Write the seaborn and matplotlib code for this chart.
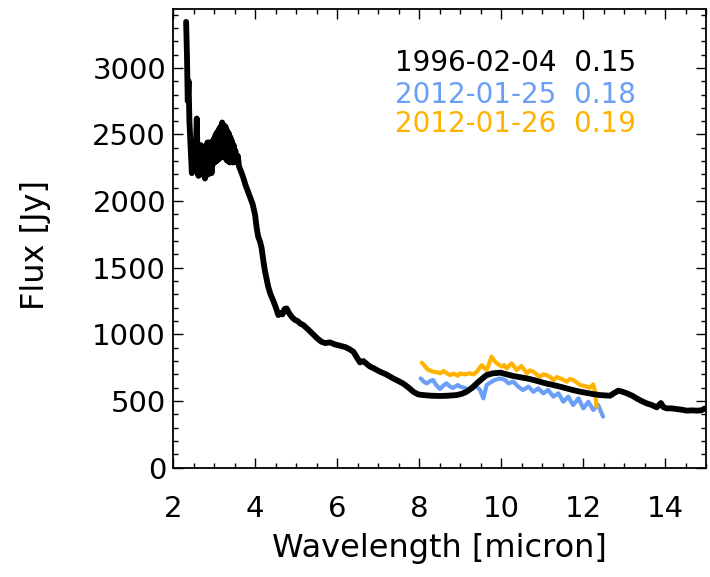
import numpy as np
import pandas as pd
import matplotlib
matplotlib.use("Agg")
import matplotlib.pyplot as plt
from matplotlib.ticker import MultipleLocator
import seaborn as sns

# ---------------- data ----------------
wl_1996 = [2.32, 2.34, 2.36, 2.38, 2.40, 2.43,
           2.46, 2.48, 2.50, 2.52, 2.54, 2.56, 2.58, 2.60, 2.62, 2.64, 2.66, 2.68,
           2.70, 2.72, 2.74, 2.76, 2.78, 2.80, 2.82, 2.84, 2.86, 2.88, 2.90, 2.92,
           2.94, 2.96, 2.98, 3.00, 3.02, 3.04, 3.06, 3.08, 3.10, 3.12, 3.14, 3.16,
           3.18, 3.20, 3.22, 3.24, 3.26, 3.28, 3.30, 3.32, 3.34, 3.36, 3.38, 3.40,
           3.42, 3.44, 3.46, 3.48, 3.50, 3.52, 3.55, 3.58, 3.61, 3.65,
           3.71, 3.77, 3.83, 3.88, 3.94, 4.00, 4.04, 4.08, 4.12, 4.16,
           4.20, 4.24, 4.28, 4.32, 4.38, 4.45, 4.51, 4.57, 4.62, 4.67, 4.72, 4.77,
           4.83, 4.90, 4.97, 5.04, 5.11, 5.18, 5.25, 5.32, 5.42, 5.52, 5.62, 5.71,
           5.83, 5.95, 6.07, 6.20, 6.30, 6.40, 6.48, 6.56, 6.64, 6.72, 6.80, 6.90,
           7.05, 7.20, 7.37, 7.50, 7.62, 7.75, 7.86, 7.98, 8.10, 8.30, 8.51, 8.70,
           8.92, 9.05, 9.16, 9.30, 9.41, 9.53, 9.65, 9.80, 9.98, 10.15, 10.30, 10.45,
           10.63, 10.80, 10.95, 11.10, 11.28, 11.44, 11.60, 11.76, 11.93, 12.10, 12.25, 12.41,
           12.55, 12.66, 12.76, 12.86, 12.96, 13.07, 13.20, 13.31, 13.43, 13.55, 13.68, 13.80,
           13.90, 13.96, 14.04, 14.16, 14.29, 14.41, 14.53, 14.65, 14.77, 14.88, 14.98]
flux_1996 = [3345, 3100, 2750, 2900, 2600, 2400,
             2210, 2380, 2250, 2350, 2230, 2420, 2620, 2300, 2190, 2400, 2240, 2420,
             2200, 2410, 2230, 2380, 2170, 2400, 2250, 2440, 2200, 2440, 2260, 2420,
             2210, 2450, 2280, 2470, 2290, 2500, 2300, 2520, 2310, 2540, 2320, 2560,
             2330, 2590, 2350, 2570, 2330, 2560, 2310, 2530, 2300, 2510, 2290, 2480,
             2300, 2450, 2290, 2420, 2300, 2380, 2290, 2340, 2260, 2230,
             2180, 2120, 2070, 2030, 1980, 1900, 1800, 1730, 1700, 1650,
             1560, 1480, 1420, 1360, 1300, 1250, 1200, 1145, 1160, 1150, 1190, 1195,
             1160, 1130, 1110, 1100, 1080, 1070, 1050, 1030, 1000, 970, 945, 935,
             940, 925, 915, 905, 890, 870, 830, 790, 800, 780, 760, 745,
             720, 700, 670, 650, 630, 600, 570, 550, 545, 540, 538, 540,
             545, 555, 570, 600, 633, 665, 695, 708, 713, 700, 688, 680,
             670, 658, 645, 632, 620, 608, 595, 582, 570, 560, 552, 545,
             542, 540, 560, 578, 570, 558, 540, 520, 500, 483, 470, 453,
             485, 455, 445, 445, 440, 435, 428, 430, 428, 430, 445]

wl_0125 = [8.04, 8.12, 8.19, 8.27, 8.34, 8.42, 8.51, 8.59, 8.67, 8.75, 8.83, 8.90,
           8.95, 9.00, 9.10, 9.20, 9.28, 9.37, 9.43, 9.49, 9.57, 9.65, 9.77, 9.85,
           9.98, 10.10, 10.18, 10.30, 10.42, 10.54, 10.67, 10.79, 10.91, 11.03, 11.15, 11.28,
           11.40, 11.52, 11.64, 11.76, 11.89, 12.01, 12.13, 12.25, 12.37, 12.49]
flux_0125 = [670, 645, 633, 650, 658, 620, 590, 615, 633, 610, 598, 612,
             620, 608, 600, 588, 605, 620, 600, 583, 520, 620, 645, 658,
             670, 658, 633, 645, 608, 583, 608, 570, 595, 558, 583, 533,
             558, 495, 533, 470, 520, 445, 495, 433, 470, 383]

wl_0126 = [8.07, 8.15, 8.22, 8.35, 8.45, 8.51, 8.60, 8.68, 8.76, 8.85, 8.95, 9.00,
           9.10, 9.24, 9.33, 9.41, 9.53, 9.60, 9.65, 9.72, 9.77, 9.84, 9.90, 10.02,
           10.08, 10.14, 10.26, 10.38, 10.50, 10.63, 10.70, 10.79, 10.87, 10.95, 11.03, 11.11,
           11.20, 11.28, 11.36, 11.44, 11.52, 11.60, 11.68, 11.76, 11.85, 11.93, 12.01, 12.09,
           12.17, 12.25, 12.30, 12.33]
flux_0126 = [788, 760, 735, 720, 715, 708, 725, 708, 695, 705, 690, 708,
             700, 708, 700, 720, 770, 745, 733, 790, 833, 800, 783, 758,
             770, 745, 783, 733, 763, 708, 730, 720, 700, 683, 700, 695,
             680, 658, 680, 670, 660, 645, 665, 658, 640, 620, 615, 608,
             600, 625, 560, 458]

labels = ["1996-02-04  0.15", "2012-01-25  0.18", "2012-01-26  0.19"]
colors = ["black", "#6B9FF6", "#FFB300"]
label_y = [3033, 2800, 2580]
x_ticks = [2, 4, 6, 8, 10, 12, 14]
y_ticks = [0, 500, 1000, 1500, 2000, 2500, 3000]

# ---------------- plotting ----------------
sns.set_theme(style="ticks")
plt.rcParams["font.family"] = ["DejaVu Sans"]

fig = plt.figure(figsize=(7.10, 5.77), dpi=100)
ax = fig.add_axes([173 / 710, 1 - 467.7 / 577, 533 / 710, 458.5 / 577])

df_b = pd.DataFrame({"wl": wl_0125, "flux": flux_0125})
df_o = pd.DataFrame({"wl": wl_0126, "flux": flux_0126})
df_k = pd.DataFrame({"wl": wl_1996, "flux": flux_1996})

sns.lineplot(data=df_b, x="wl", y="flux", ax=ax, color=colors[1], lw=3.0,
             estimator=None, sort=False)
sns.lineplot(data=df_o, x="wl", y="flux", ax=ax, color=colors[2], lw=3.0,
             estimator=None, sort=False)
sns.lineplot(data=df_k, x="wl", y="flux", ax=ax, color=colors[0], lw=4.2,
             estimator=None, sort=False)

ax.set_xlim(2, 15)
ax.set_ylim(0, 3440)
ax.set_xticks(x_ticks)
ax.set_yticks(y_ticks)
ax.xaxis.set_minor_locator(MultipleLocator(0.5))
ax.yaxis.set_minor_locator(MultipleLocator(100))

for s in ax.spines.values():
    s.set_color("black")
    s.set_linewidth(1.3)

ax.tick_params(which="both", direction="in", top=True, right=True,
               color="black", width=1.0)
ax.tick_params(which="major", length=7)
ax.tick_params(which="minor", length=3.5)
ax.tick_params(axis="x", which="major", pad=20, labelsize=21, labelcolor="black")
ax.tick_params(axis="y", which="major", pad=5, labelsize=21, labelcolor="black")

ax.set_xlabel("Wavelength [micron]", fontsize=23, color="black")
ax.set_ylabel("Flux [Jy]", fontsize=23, color="black")
ax.xaxis.set_label_coords(0.5, -0.142)
ax.yaxis.set_label_coords(-0.229, 0.485)

for lab, col, yy in zip(labels, colors, label_y):
    ax.text(7.41, yy, lab, color=col, fontsize=20, ha="left", va="center")

fig.savefig("out.png", dpi=100)
